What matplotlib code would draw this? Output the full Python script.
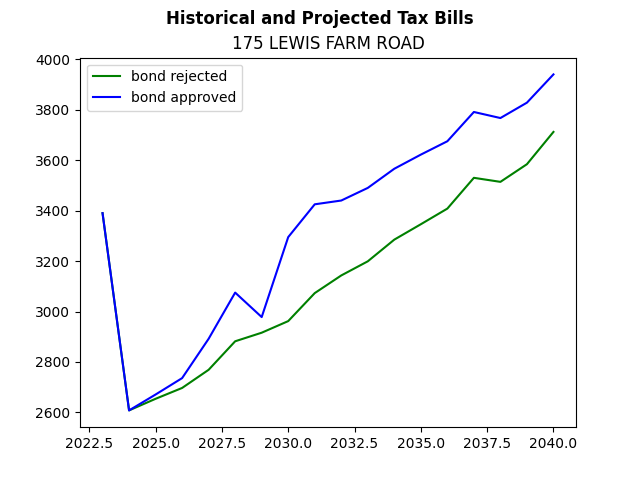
import matplotlib
matplotlib.use('Agg')
import matplotlib.pyplot as plt

# tax bill per year
years = list(range(2023, 2041))
bond_rejected = [3390, 2608, 2654, 2697, 2769, 2882, 2916, 2962, 3073, 3143,
                 3199, 3285, 3346, 3408, 3530, 3514, 3584, 3712]
bond_approved = [3390, 2608, 2671, 2736, 2892, 3075, 2978, 3295, 3425, 3440,
                 3490, 3566, 3622, 3675, 3791, 3767, 3828, 3940]

fig, ax = plt.subplots(figsize=(6.4, 4.8), dpi=100)
ax.plot(years, bond_rejected, color='green', label='bond rejected')
ax.plot(years, bond_approved, color='blue', label='bond approved')

fig.suptitle('Historical and Projected Tax Bills', fontweight='bold')
ax.set_title('175 LEWIS FARM ROAD')
ax.legend(loc='upper left')

plt.savefig('out.png')
